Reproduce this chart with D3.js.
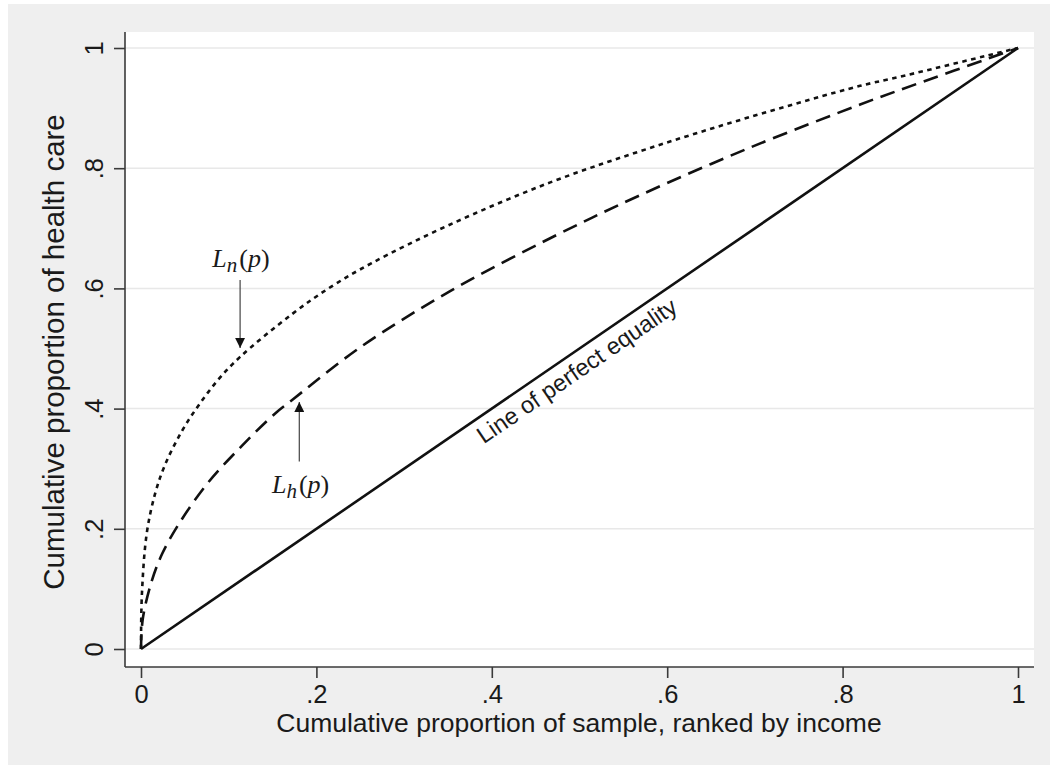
<!DOCTYPE html>
<html>
<head>
<meta charset="utf-8">
<script src="https://cdn.jsdelivr.net/npm/d3@7"></script>
<style>
  html, body { margin: 0; padding: 0; background: #ffffff; }
  svg { display: block; }
  text { font-family: "Liberation Sans", Arial, Helvetica, sans-serif; fill: #1a1a1a; }
</style>
</head>
<body>
<svg id="chart" width="1050" height="765"></svg>
<script>
// Concentration curves: cumulative share of health care vs cumulative
// share of the sample ranked by income.
const xTicks = [0, 0.2, 0.4, 0.6, 0.8, 1];
const xTickLabels = ["0", ".2", ".4", ".6", ".8", "1"];
const yTicks = [0, 0.2, 0.4, 0.6, 0.8, 1];
const yTickLabels = ["0", ".2", ".4", ".6", ".8", "1"];

// L_n(p) — need (dotted)
const needP = [0, 0.001, 0.0065, 0.016, 0.027, 0.046, 0.065, 0.088, 0.113, 0.172, 0.217, 0.263, 0.352, 0.466, 0.577, 0.694, 0.82, 0.865, 1];
const needL = [0, 0.09, 0.192, 0.258, 0.305, 0.361, 0.404, 0.448, 0.486, 0.557, 0.603, 0.642, 0.706, 0.776, 0.832, 0.885, 0.937, 0.952, 1];

// L_h(p) — health care use (dashed)
const useP = [0, 0.002, 0.012, 0.024, 0.044, 0.076, 0.115, 0.153, 0.172, 0.25, 0.352, 0.466, 0.569, 0.694, 0.82, 0.865, 1];
const useL = [0, 0.05, 0.112, 0.158, 0.21, 0.276, 0.338, 0.392, 0.414, 0.502, 0.595, 0.683, 0.755, 0.834, 0.906, 0.930, 1];

// Line of perfect equality
const equalP = [0, 1];
const equalL = [0, 1];

const xTitle = "Cumulative proportion of sample, ranked by income";
const yTitle = "Cumulative proportion of health care";
const equalityLabel = "Line of perfect equality";

const W = 1050, H = 765;
const frame = { left: 125, right: 1034, top: 32, bottom: 667 };

const svg = d3.select("#chart");

// outer panel
svg.append("rect").attr("x", 8).attr("y", 4).attr("width", W - 8).attr("height", H - 4).attr("fill", "#efefef");
// plot region
svg.append("rect")
  .attr("x", frame.left).attr("y", frame.top)
  .attr("width", frame.right - frame.left).attr("height", frame.bottom - frame.top)
  .attr("fill", "#ffffff");

const x = d3.scaleLinear().domain([0, 1]).range([141, 1018]);
const y = d3.scaleLinear().domain([0, 1]).range([649, 48]);

// horizontal grid
svg.append("g").selectAll("line").data(yTicks).join("line")
  .attr("x1", frame.left).attr("x2", frame.right)
  .attr("y1", d => y(d)).attr("y2", d => y(d))
  .attr("stroke", "#e8e8e8").attr("stroke-width", 1.5);

// axes
const xAxis = svg.append("g").attr("transform", `translate(0,${frame.bottom})`)
  .call(d3.axisBottom(x).tickValues(xTicks).tickFormat((d, i) => xTickLabels[i]).tickSize(11).tickPadding(8));
const yAxis = svg.append("g").attr("transform", `translate(${frame.left},0)`)
  .call(d3.axisLeft(y).tickValues(yTicks).tickFormat((d, i) => yTickLabels[i]).tickSize(11).tickPadding(0));

[xAxis, yAxis].forEach(a => {
  a.select(".domain").remove();
  a.selectAll(".tick line").attr("stroke", "#3a3a3a").attr("stroke-width", 1.6);
  a.selectAll(".tick text").attr("font-size", 25.5).attr("fill", "#1a1a1a")
    .style("font-family", '"Liberation Sans", Arial, Helvetica, sans-serif');
});
xAxis.selectAll(".tick text").attr("dy", null).attr("y", 36);
yAxis.selectAll(".tick text")
  .attr("x", null).attr("dy", null)
  .attr("text-anchor", "middle")
  .attr("transform", "translate(-22,0) rotate(-90)");

// axis lines
svg.append("line").attr("x1", frame.left).attr("x2", frame.right)
  .attr("y1", frame.bottom).attr("y2", frame.bottom)
  .attr("stroke", "#3a3a3a").attr("stroke-width", 1.6);
svg.append("line").attr("x1", frame.left).attr("x2", frame.left)
  .attr("y1", frame.top).attr("y2", frame.bottom)
  .attr("stroke", "#3a3a3a").attr("stroke-width", 1.6);

// titles
svg.append("text").attr("x", 579).attr("y", 732).attr("text-anchor", "middle")
  .attr("font-size", 26.5).text(xTitle);
svg.append("text").attr("transform", "translate(64,352) rotate(-90)").attr("text-anchor", "middle")
  .attr("font-size", 29.5).text(yTitle);

// curves
const line = d3.line().x(d => x(d[0])).y(d => y(d[1])).curve(d3.curveCatmullRom.alpha(0.5));
const zip = (a, b) => a.map((v, i) => [v, b[i]]);

svg.append("path").datum(zip(equalP, equalL)).attr("d", line)
  .attr("fill", "none").attr("stroke", "#111").attr("stroke-width", 2.6);
svg.append("path").datum(zip(useP, useL)).attr("d", line)
  .attr("fill", "none").attr("stroke", "#111").attr("stroke-width", 2.6)
  .attr("stroke-dasharray", "15,8");
svg.append("path").datum(zip(needP, needL)).attr("d", line)
  .attr("fill", "none").attr("stroke", "#111").attr("stroke-width", 2.6)
  .attr("stroke-dasharray", "4.5,4.5");

// label along the equality line
const angle = Math.atan2(y(1) - y(0), x(1) - x(0)) * 180 / Math.PI;
svg.append("text")
  .attr("transform", `translate(${x(0.486)},${y(0.486)}) rotate(${angle})`)
  .attr("text-anchor", "middle").attr("dy", 25)
  .attr("font-size", 23.5).text(equalityLabel);

// arrow annotations
const defs = svg.append("defs");
defs.append("marker").attr("id", "head").attr("viewBox", "0 0 10 10")
  .attr("refX", 10).attr("refY", 5).attr("markerWidth", 10).attr("markerHeight", 10)
  .attr("markerUnits", "userSpaceOnUse").attr("orient", "auto")
  .append("path").attr("d", "M0,0 L10,5 L0,10 Z").attr("fill", "#111");

const arrows = [
  { p: 0.113, from: 0.614, to: 0.501 },
  { p: 0.1805, from: 0.312, to: 0.411 }
];
svg.append("g").selectAll("line").data(arrows).join("line")
  .attr("x1", d => x(d.p)).attr("x2", d => x(d.p))
  .attr("y1", d => y(d.from)).attr("y2", d => y(d.to))
  .attr("stroke", "#444").attr("stroke-width", 1.2)
  .attr("marker-end", "url(#head)");

function mathLabel(cx, cy, sub) {
  const t = svg.append("text").attr("x", cx).attr("y", cy)
    .attr("text-anchor", "middle").attr("font-size", 26);
  t.append("tspan").attr("font-style", "italic").text("L");
  t.append("tspan").attr("font-style", "italic").attr("font-size", 21).attr("dy", 5).text(sub);
  t.append("tspan").attr("dy", -5).attr("dx", 2).text("(");
  t.append("tspan").attr("font-style", "italic").text("p");
  t.append("tspan").text(")");
  t.style("font-family", '"Liberation Serif", "Times New Roman", serif');
}
mathLabel(x(0.114), y(0.636), "n");
mathLabel(x(0.182), y(0.26), "h");
</script>
</body>
</html>
